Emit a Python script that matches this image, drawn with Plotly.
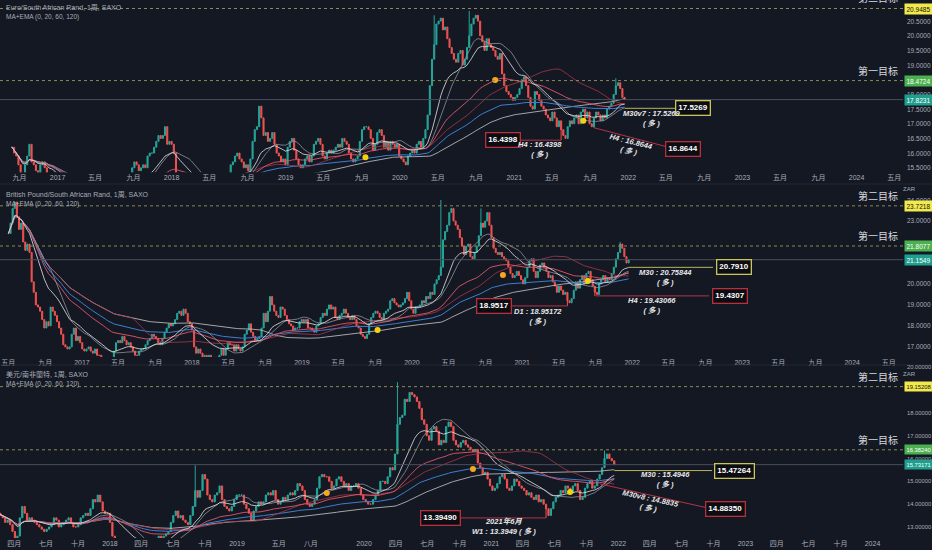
import pandas as pd
import numpy as np
import plotly.graph_objects as go

END = "2021-12-20"

# ---------------- weekly closes ----------------
eur_close = [
    16.2, 16.0, 15.9, 15.6, 15.3, 15.2, 15.6, 15.9, 16.3, 15.7, 15.6, 15.4, 15.3,
    15.6, 15.7, 15.5, 15.2, 14.8, 15.3, 15.1, 14.7, 14.8, 14.6, 14.4, 14.3, 14.4,
    14.6, 14.4, 14.5, 14.4, 14.2, 14.0, 13.9, 13.8, 13.6, 13.5, 13.4, 14.2, 14.4,
    14.7, 14.5, 14.6, 14.5, 14.8, 14.7, 14.9, 14.6, 14.4, 14.3, 14.6, 14.8, 14.9,
    15.2, 15.0, 15.3, 15.5, 15.7, 15.6, 15.4, 15.5, 15.6, 15.5, 15.9, 16.0, 16.0,
    16.2, 16.4, 16.6, 16.5, 16.6, 16.9, 16.3, 16.4, 16.3, 16.0, 15.2, 14.9, 14.85,
    14.9, 14.8, 14.7, 14.6, 14.5, 14.4, 14.3, 14.4, 14.6, 14.5, 14.7, 14.8, 14.7,
    14.6, 14.7, 14.8, 15.0, 14.9, 14.7, 14.8, 14.6, 14.9, 15.6, 15.7, 15.9, 16.0,
    15.8, 15.7, 15.5, 15.6, 15.4, 15.8, 16.4, 16.8, 16.9, 17.6, 17.2, 16.6, 16.7,
    16.4, 16.5, 16.7, 16.3, 16.0, 15.9, 15.7, 15.8, 15.6, 16.2, 16.4, 16.5,
    16.1, 15.8, 15.6, 15.5, 15.6, 15.8, 15.9, 15.7, 15.9, 16.3, 16.4, 16.5, 16.3,
    15.9, 15.8, 16.0, 16.1, 16.0, 16.1, 16.2, 16.3, 16.2, 16.5, 16.4, 16.3, 16.0,
    15.8, 15.7, 15.8, 15.9, 16.4, 16.8, 16.9, 16.9, 16.8, 16.5, 16.1, 16.3, 16.7,
    16.8, 16.6, 16.2, 16.4, 16.1, 16.4, 16.3, 16.2, 16.3, 15.9, 15.8, 15.7, 15.6,
    15.9, 16.0, 16.1, 16.0, 16.3, 16.4, 16.2, 16.5, 16.8, 17.3, 18.3, 19.2, 19.7,
    20.4, 20.5, 20.6, 20.2, 20.3, 19.9, 19.6, 19.4, 19.2, 19.1, 19.4, 19.5, 19.0,
    19.2, 19.6, 20.0, 20.4, 20.6, 20.7, 20.5, 20.0, 19.8, 19.5, 19.9, 19.7,
    19.6, 19.5, 19.3, 19.2, 19.4, 18.7, 18.3, 18.1, 18.0, 17.9, 17.8, 17.9, 18.0,
    18.2, 18.5, 18.6, 18.3, 17.9, 17.6, 17.5, 18.1, 18.0, 17.8, 17.6, 17.5,
    17.3, 17.2, 17.1, 17.4, 17.2, 16.9, 17.1, 16.8, 16.6, 16.5, 16.9, 17.1, 17.0,
    17.2, 17.3, 17.0, 17.4, 17.5, 17.2, 17.4, 17.0, 16.9, 17.2, 17.4, 17.3,
    17.1, 17.3, 17.2, 17.5, 17.6, 17.7, 18.0, 18.3, 18.4, 18.2, 17.9, 17.8231,
]
eur_wicks = {"2020-04-20": (20.7, None), "2020-08-10": (20.85, None),
             "2021-05-31": (None, 16.4398), "2021-09-13": (None, 16.8644), "2021-11-22": (18.55, None)}

gbp_close = [
    22.4, 22.9, 23.6, 23.9, 23.2, 22.6, 22.9, 22.0, 21.6, 21.9, 21.5, 20.1,
    19.6, 19.0, 18.9, 18.7, 18.3, 17.9, 18.2, 18.0, 18.9, 18.7, 18.5, 18.2, 17.9,
    17.6, 17.1, 17.0, 16.9, 17.0, 17.6, 17.9, 17.3, 17.5, 17.2, 16.9, 16.8, 16.9,
    17.0, 16.8, 16.7, 16.9, 16.6, 16.6, 16.4, 16.3, 16.1, 15.9, 16.1, 16.3, 16.8,
    17.2, 17.3, 17.2, 17.5, 17.3, 17.1, 17.2, 17.0, 16.8, 16.6, 16.6, 16.8, 16.9,
    16.9, 17.1, 17.3, 17.4, 17.6, 17.5, 17.4, 17.2, 17.1, 17.4, 17.7, 17.9, 18.1,
    18.0, 18.1, 18.3, 18.6, 18.7, 18.5, 18.8, 18.6, 18.2, 18.1, 17.8, 17.0, 16.7,
    16.9, 16.7, 16.5, 16.6, 16.4, 16.6, 16.3, 16.4, 16.5, 16.4, 16.6, 16.9, 16.6,
    16.9, 17.2, 17.1, 17.1, 16.8, 17.1, 16.9, 16.8, 17.0, 17.6, 17.8, 18.1,
    17.7, 17.5, 17.3, 17.4, 17.5, 17.9, 18.6, 18.2, 18.7, 19.4, 19.0, 18.7, 18.5,
    18.4, 18.9, 18.8, 18.5, 18.3, 18.1, 18.0, 17.8, 17.9, 17.9, 18.2, 18.3, 18.2, 18.3,
    17.9, 17.9, 17.8, 17.7, 18.0, 18.1, 18.4, 18.6, 18.5, 18.8, 19.0, 18.8, 18.9,
    18.4, 18.3, 18.5, 18.6, 18.8, 18.6, 18.4, 18.3, 18.5, 18.3, 18.0, 17.9,
    17.6, 17.5, 17.4, 17.6, 18.1, 18.4, 18.6, 18.7, 18.6, 18.4, 18.3, 18.6, 18.7,
    18.8, 19.2, 19.3, 19.1, 19.0, 18.9, 19.0, 19.1, 19.3, 19.6, 19.2, 18.8, 18.6, 18.9,
    18.9, 19.0, 19.2, 19.1, 19.4, 19.3, 19.6, 19.5, 20.0, 20.2, 20.4, 20.8, 22.1, 22.5,
    22.8, 23.4, 23.6, 23.0, 22.8, 22.6, 22.2, 21.8, 21.4, 21.8, 21.9, 21.3,
    21.2, 21.5, 21.8, 22.3, 22.9, 22.7, 23.0, 23.4, 22.8, 22.2, 21.7, 21.5, 21.4,
    21.5, 21.3, 21.2, 21.1, 20.8, 20.5, 20.3, 20.4, 20.6, 20.4, 20.2, 20.0, 20.3,
    20.8, 21.1, 21.2, 20.6, 20.3, 20.6, 20.9, 21.0, 20.8, 20.6, 20.3, 20.4,
    20.1, 19.9, 19.6, 19.9, 19.7, 19.5, 19.6, 19.2, 19.1, 19.3, 19.7, 20.1, 19.8,
    20.2, 20.4, 20.0, 20.5, 20.6, 20.2, 19.9, 19.6, 19.5, 20.0, 20.2, 20.4,
    20.1, 20.3, 20.2, 20.5, 20.8, 21.2, 21.5, 21.9, 21.7, 21.3, 21.0, 21.1549,
]
gbp_wicks = {"2020-04-06": (24.0, None), "2020-08-17": (23.6, None), "2021-06-01": (None, 18.9517),
             "2021-09-01": (None, 19.4307), "2021-11-22": (22.0, None)}

usd_close = [
    13.6, 13.5, 13.4, 13.2, 13.3, 13.1, 12.8, 12.5, 12.6, 13.4, 13.9, 13.6, 13.3, 13.4,
    13.3, 13.2, 13.1, 13.0, 12.9, 12.8, 12.9, 13.0, 13.1, 13.4, 13.3, 13.0, 13.1, 13.2,
    13.3, 13.4, 13.2, 13.0, 13.0, 13.1, 13.4, 13.5, 13.6, 13.5, 13.8, 14.2, 14.1,
    14.4, 14.1, 13.7, 13.6, 13.6, 13.2, 12.6, 12.4,
    12.3, 12.1, 12.0, 11.9, 11.9, 11.8, 11.7, 11.7, 11.8, 11.9, 11.8, 11.9, 11.8,
    12.0, 12.2, 12.4, 12.5, 12.6, 12.5, 12.6, 12.7, 12.8, 13.2, 13.5, 13.7,
    13.4, 13.5, 13.3, 13.2, 13.1, 13.5, 13.9, 14.6, 14.3, 14.6, 15.3, 15.1, 14.4, 14.2,
    14.1, 14.4, 14.5, 14.8, 14.2, 13.9, 13.8, 13.7, 13.9, 14.2, 14.4, 14.4, 14.4,
    14.0, 13.8, 13.6, 13.3, 13.7, 13.9, 14.1, 14.0, 14.1, 14.4, 14.5, 14.4, 14.6,
    14.2, 14.0, 14.1, 14.3, 14.2, 14.4, 14.5, 14.4, 14.6, 14.9, 14.8, 14.6, 14.2,
    14.0, 13.9, 14.0, 14.2, 14.7, 15.2, 15.3, 15.2, 15.2, 15.0, 14.7, 14.8, 15.1,
    15.2, 15.0, 14.8, 14.9, 14.6, 14.8, 14.8, 14.9, 14.7, 14.4, 14.2, 14.1, 14.0,
    14.0, 14.2, 14.4, 14.6, 15.0, 15.0, 14.9, 15.2, 15.6, 15.5, 16.2, 17.5, 17.8, 17.9,
    18.6, 18.5, 18.9, 18.8, 18.7, 18.5, 18.2, 17.7, 17.5, 17.0, 16.8, 17.3, 17.4,
    17.2, 16.6, 16.8, 16.7, 17.4, 17.6, 17.4, 16.8, 16.6, 16.5, 16.7, 16.8,
    16.6, 16.5, 16.4, 16.3, 16.4, 15.8, 15.6, 15.3, 15.4, 15.1, 14.8, 14.6, 14.7,
    14.9, 15.2, 15.3, 15.1, 14.7, 14.6, 14.8, 15.1, 15.0, 14.8, 14.7, 14.6,
    14.4, 14.5, 14.3, 14.2, 14.4, 14.1, 14.2, 14.0, 13.8, 13.5, 13.8, 14.1, 14.3,
    14.4, 14.6, 14.5, 14.8, 14.7, 14.5, 14.8, 14.9, 14.6, 14.2, 14.3, 14.7, 14.9,
    15.0, 14.7, 14.8, 15.1, 15.3, 15.6, 16.0, 16.2, 16.0, 15.9, 15.73171,
]
usd_wicks = {"2018-09-03": (15.7, None), "2020-04-06": (19.35, None), "2021-06-07": (None, 13.3949),
             "2021-11-22": (16.35, None)}

# ---------------- axis labels ----------------
top_ticks = [("2016-09-01", "九月"), ("2017-01-01", "2017"), ("2017-05-01", "五月"), ("2017-09-01", "九月"),
             ("2018-01-01", "2018"), ("2018-05-01", "五月"), ("2018-09-01", "九月"), ("2019-01-01", "2019"),
             ("2019-05-01", "五月"), ("2019-09-01", "九月"), ("2020-01-01", "2020"), ("2020-05-01", "五月"),
             ("2020-09-01", "九月"), ("2021-01-01", "2021"), ("2021-05-01", "五月"), ("2021-09-01", "九月"),
             ("2022-01-01", "2022"), ("2022-05-01", "五月"), ("2022-09-01", "九月"), ("2023-01-01", "2023"),
             ("2023-05-01", "五月"), ("2023-09-01", "九月"), ("2024-01-01", "2024"), ("2024-05-01", "五月")]
mid_ticks = [("2016-05-01", "五月"), ("2016-09-01", "九月")] + top_ticks[1:]
bot_ticks = [("2017-04-01", "四月"), ("2017-07-01", "七月"), ("2017-10-01", "十月"), ("2018-01-01", "2018"),
             ("2018-04-01", "四月"), ("2018-07-01", "七月"), ("2018-10-01", "十月"), ("2019-01-01", "2019"),
             ("2019-05-01", "五月"), ("2019-08-01", "八月"), ("2020-01-01", "2020"), ("2020-04-01", "四月"),
             ("2020-07-01", "七月"), ("2020-10-01", "十月"), ("2021-01-01", "2021"), ("2021-04-01", "四月"),
             ("2021-07-01", "七月"), ("2021-10-01", "十月"), ("2022-01-01", "2022"), ("2022-04-01", "四月"),
             ("2022-07-01", "七月"), ("2022-10-01", "十月"), ("2023-01-01", "2023"), ("2023-04-01", "四月"),
             ("2023-07-01", "七月"), ("2023-10-01", "十月"), ("2024-01-01", "2024")]

top_yticks = [15.5, 16.0, 16.5, 17.0, 17.5, 18.0, 19.0, 19.5, 20.0, 20.5]
mid_yticks = [17, 18, 19, 20, 23, 24]
bot_yticks = [13, 14, 15, 16, 17, 18, 20]

BG = "#141823"
UP, DN = "#26a69a", "#ef5350"
TXT = "#a9adb8"
FONT = "Liberation Sans, Noto Sans CJK SC"


def frame(closes, wicks):
    d = pd.date_range(end=END, periods=len(closes), freq="W-MON")
    c = pd.Series(closes, index=d, dtype=float)
    o = c.shift(1).fillna(c.iloc[0])
    h = pd.concat([o, c], axis=1).max(axis=1)
    l = pd.concat([o, c], axis=1).min(axis=1)
    for k, (hi, lo) in wicks.items():
        i = d.get_indexer([pd.Timestamp(k)], method="nearest")[0]
        if hi is not None:
            h.iloc[i] = max(h.iloc[i], hi)
        if lo is not None:
            l.iloc[i] = min(l.iloc[i], lo)
    return d, o, h, l, c


panels = [
    dict(close=eur_close, wicks=eur_wicks, ticks=top_ticks, xr=["2016-07-01", "2024-05-29"],
         yr=[15.35, 21.22], dom=[0.687, 1.0], yt=top_yticks, fmt="{:.4f}", fs=6.5,
         title="Euro/South African Rand, 1周, SAXO", t2=20.93, t1=18.4724, last="17.8231",
         t2txt="20.9485", t1txt="18.4724",
         dots=[("2019-09-13", 15.86, "#f5d20a"), ("2020-11-01", 18.49, "#f5a623"), ("2021-08-10", 17.10, "#f5d20a")]),
    dict(close=gbp_close, wicks=gbp_wicks, ticks=mid_ticks, xr=["2016-04-04", "2024-06-18"],
         yr=[16.52, 24.62], dom=[0.351, 0.66], yt=mid_yticks, fmt="{:.4f}", fs=6.5,
         title="British Pound/South African Rand, 1周, SAXO", t2=23.7218, t1=21.8077, last="21.1549",
         t2txt="23.7218", t1txt="21.8077",
         dots=[("2019-09-09", 17.81, "#f5d20a"), ("2020-10-29", 20.43, "#f5a623"), ("2021-08-07", 20.14, "#f5d20a")]),
    dict(close=usd_close, wicks=usd_wicks, ticks=bot_ticks, xr=["2017-02-19", "2024-03-29"],
         yr=[12.52, 20.02], dom=[0.022, 0.333], yt=bot_yticks, fmt="{:.5f}", fs=5.8,
         title="美元/南非蘭特, 1周, SAXO", t2=19.15208, t1=16.38240, last="15.73171",
         t2txt="19.15208", t1txt="16.38240",
         dots=[("2019-09-16", 14.49, "#f5a623"), ("2020-11-09", 15.54, "#f5a623"), ("2021-08-15", 14.53, "#f5d20a")]),
]

# annotation boxes: (panel, text, x date, y, kind)
boxes = [
    (0, "17.5269", "2022-07-27", 17.5269, "y"), (0, "16.4398", "2020-11-26", 16.4398, "r"),
    (0, "16.8644", "2022-06-25", 16.13, "r"),
    (1, "20.7910", "2022-12-04", 20.791, "y"), (1, "19.4307", "2022-11-20", 19.4307, "r"),
    (1, "18.9517", "2020-09-28", 18.9517, "r"),
    (2, "15.47264", "2022-12-01", 15.47264, "y"), (2, "14.88350", "2022-11-06", 13.80, "r"),
    (2, "13.39490", "2020-08-07", 13.3949, "r"),
]
links = [
    (0, "2021-12-20", 17.5269, "2022-06-08", 17.5269, "y"), (0, "2021-01-14", 16.4398, "2021-05-31", 16.4398, "r"),
    (0, "2021-09-13", 16.8644, "2022-05-28", 16.15, "r"),
    (1, "2021-12-20", 20.791, "2022-09-26", 20.791, "y"), (1, "2021-09-01", 19.4307, "2022-09-13", 19.4307, "r"),
    (1, "2020-11-10", 18.9517, "2021-06-01", 18.9517, "r"),
    (2, "2021-12-20", 15.47264, "2022-09-27", 15.47264, "y"), (2, "2021-11-10", 14.8835, "2022-09-10", 13.85, "r"),
    (2, "2020-09-20", 13.3949, "2021-06-07", 13.3949, "r"),
]
notes = [
    (0, "M30v7 : 17.5269<br>( 多 )", "2022-03-17", 17.19, 0), (0, "H4 : 16.4398<br>( 多 )", "2021-03-25", 16.13, 0),
    (0, "H4 : 16.8644<br>( 多 )", "2022-01-07", 16.22, 14),
    (1, "M30 : 20.75844<br>( 多 )", "2022-04-22", 20.33, 0), (1, "H4 : 19.43066<br>( 多 )", "2022-03-08", 18.95, 0),
    (1, "D1 : 18.95172<br>( 多 )", "2021-02-22", 18.43, 0),
    (2, "M30 : 15.4946<br>( 多 )", "2022-05-15", 15.06, 0), (2, "M30v8 : 14.8835<br>( 多 )", "2022-04-01", 14.05, 12),
    (2, "2021年6月<br>W1 : 13.3949 ( 多 )", "2021-02-05", 13.0, 0),
]

fig = go.Figure()
ann, shp = [], []
XR = 0.969
LABX = 0.9715

for k, p in enumerate(panels):
    n = "" if k == 0 else str(k + 1)
    xa, ya = "x" + n, "y" + n
    d, o, h, l, c = frame(p["close"], p["wicks"])
    fig.add_trace(go.Candlestick(
        x=d, open=o, high=h, low=l, close=c, xaxis=xa, yaxis=ya, whiskerwidth=0,
        increasing=dict(line=dict(color=UP, width=1), fillcolor=UP),
        decreasing=dict(line=dict(color=DN, width=1), fillcolor=DN), hoverinfo="skip"))
    lines = [
        (c.rolling(120, min_periods=1).mean(), "#c9c9c9", 0.8),
        (c.ewm(span=120, adjust=True).mean(), "#3d7fd1", 1.0),
        (c.rolling(60, min_periods=1).mean(), "#a8394a", 0.8),
        (c.ewm(span=60, adjust=True).mean(), "#e2566a", 0.9),
        (c.rolling(20, min_periods=1).mean(), "#8f939e", 0.8),
        (c.ewm(span=20, adjust=True).mean(), "#e6e6e6", 0.8),
    ]
    for s, col, w in lines:
        fig.add_trace(go.Scatter(x=d, y=s, mode="lines", line=dict(color=col, width=w),
                                 xaxis=xa, yaxis=ya, hoverinfo="skip"))
    fig.add_trace(go.Scatter(x=[q[0] for q in p["dots"]], y=[q[1] for q in p["dots"]], mode="markers",
                             marker=dict(color=[q[2] for q in p["dots"]], size=6), xaxis=xa, yaxis=ya,
                             hoverinfo="skip"))
    tv = [t[0] for t in p["ticks"]]
    tt = [t[1] for t in p["ticks"]]
    fig.update_layout(**{
        ("xaxis" + n): dict(domain=[0, XR], anchor=ya, type="date", range=p["xr"], tickvals=tv, ticktext=tt,
                            tickfont=dict(size=7, color=TXT, family=FONT), showgrid=False, zeroline=False,
                            showline=False, ticks="", rangeslider=dict(visible=False), automargin=False),
        ("yaxis" + n): dict(domain=p["dom"], anchor=xa, side="right", range=p["yr"], showticklabels=False,
                            showgrid=False, zeroline=False, showline=False, ticks="", automargin=False),
    })
    # price scale labels
    for v in p["yt"]:
        ann.append(dict(xref="paper", x=LABX, xanchor="left", yref=ya, y=v, yanchor="middle",
                        text=p["fmt"].format(v), showarrow=False, font=dict(size=p["fs"], color=TXT, family=FONT)))
    # target dotted lines & current price line
    for v in (p["t2"], p["t1"]):
        shp.append(dict(type="line", xref=xa + " domain", x0=0, x1=1, yref=ya, y0=v, y1=v,
                        line=dict(color="#8c8a55", width=1, dash="dot")))
    shp.append(dict(type="line", xref=xa + " domain", x0=0, x1=1, yref=ya, y0=float(p["last"]),
                    y1=float(p["last"]), line=dict(color="#4b4f5b", width=1)))
    for v, lab in ((p["t2"], "第二目标"), (p["t1"], "第一目标")):
        ann.append(dict(xref="paper", x=0.966, xanchor="right", yref=ya, y=v, yanchor="bottom", yshift=1,
                        text=lab, showarrow=False, font=dict(size=10, color="#d6d8de", family="Noto Sans CJK SC")))
    for v, txt, bg, fc in ((p["t2"], p["t2txt"], "#f2e94e", "#111"), (p["t1"], p["t1txt"], "#4caf50", "#fff"),
                           (float(p["last"]), p["last"], "#1f9e8e", "#fff")):
        ann.append(dict(xref="paper", x=LABX - 0.002, xanchor="left", yref=ya, y=v, yanchor="middle", text=txt,
                        showarrow=False, bgcolor=bg, borderpad=1.5, font=dict(size=p["fs"], color=fc, family=FONT)))
    top = p["dom"][1]
    ann.append(dict(xref="paper", x=0.004, xanchor="left", yref="paper", y=top - 8 / 550, yanchor="middle",
                    text=p["title"], showarrow=False, font=dict(size=7, color=TXT, family=FONT)))
    ann.append(dict(xref="paper", x=0.004, xanchor="left", yref="paper", y=top - 17 / 550, yanchor="middle",
                    text="MA+EMA (0, 20, 60, 120)", showarrow=False, font=dict(size=6.5, color=TXT, family=FONT)))

ann.append(dict(xref="paper", x=0.985, yref="paper", y=1 - 189 / 550, text="ZAR", showarrow=False,
                font=dict(size=6, color=TXT, family=FONT)))
ann.append(dict(xref="paper", x=0.985, yref="paper", y=1 - 379 / 550, text="ZAR", showarrow=False,
                font=dict(size=6, color=TXT, family=FONT)))


def axn(k):
    return "" if k == 0 else str(k + 1)


for k, x0, y0, x1, y1, kind in links:
    shp.append(dict(type="line", xref="x" + axn(k), yref="y" + axn(k), x0=x0, y0=y0, x1=x1, y1=y1,
                    line=dict(color="#b8b45a" if kind == "y" else "#b0344a", width=1)))
for k, txt, x, y, kind in boxes:
    ann.append(dict(xref="x" + axn(k), yref="y" + axn(k), x=x, y=y, text="<b>" + txt + "</b>", showarrow=False,
                    bgcolor="#0b0d12", bordercolor="#c9c45c" if kind == "y" else "#b8303e", borderwidth=1.3,
                    borderpad=2, font=dict(size=8, color="#ffffff", family=FONT)))
for k, txt, x, y, ang in notes:
    ann.append(dict(xref="x" + axn(k), yref="y" + axn(k), x=x, y=y, text="<b><i>" + txt + "</i></b>",
                    showarrow=False, textangle=ang, font=dict(size=7.5, color="#e8e8e8", family=FONT)))

for yy in (184, 365):
    shp.append(dict(type="line", xref="paper", x0=0, x1=1, yref="paper", y0=1 - yy / 550, y1=1 - yy / 550,
                    line=dict(color="#222633", width=1)))

fig.update_layout(width=932, height=550, margin=dict(l=0, r=0, t=0, b=0), paper_bgcolor=BG, plot_bgcolor=BG,
                  showlegend=False, annotations=ann, shapes=shp, font=dict(family=FONT))
fig.write_html("out.html", config={"displayModeBar": False},
               post_script="document.body.style.margin='0';document.body.style.overflow='hidden';"
                           "document.body.style.background='" + BG + "';")
